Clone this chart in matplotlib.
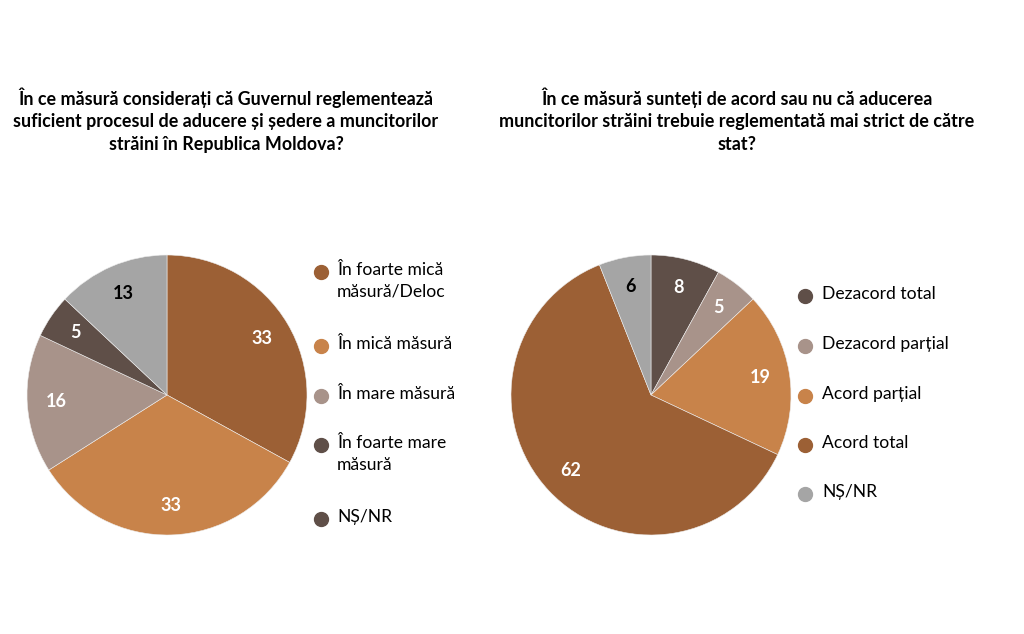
import matplotlib
matplotlib.use("Agg")
import matplotlib.pyplot as plt
from matplotlib.lines import Line2D

plt.rcParams['font.family'] = ['Lato', 'DejaVu Sans']

# ---- data ----
left_title = "În ce măsură considerați că Guvernul reglementează\nsuficient procesul de aducere și ședere a muncitorilor\nstrăini în Republica Moldova?"
left_labels = ["În foarte mică\nmăsură/Deloc", "În mică măsură", "În mare măsură", "În foarte mare\nmăsură", "NȘ/NR"]
left_values = [33, 33, 16, 5, 13]
left_colors = ["#9C6035", "#C8834A", "#A8938A", "#5F4F48", "#A5A5A5"]
left_legend_colors = ["#9C6035", "#C8834A", "#A8938A", "#5F4F48", "#5F4F48"]
left_label_colors = ["white", "white", "white", "white", "black"]

right_title = "În ce măsură sunteți de acord sau nu că aducerea\nmuncitorilor străini trebuie reglementată mai strict de către\nstat?"
right_labels = ["Dezacord total", "Dezacord parțial", "Acord parțial", "Acord total", "NȘ/NR"]
right_values = [8, 5, 19, 62, 6]
right_colors = ["#5F4F48", "#A8938A", "#C8834A", "#9C6035", "#A5A5A5"]
right_label_colors = ["white", "white", "white", "white", "black"]

W, H = 1024, 634
fig = plt.figure(figsize=(W / 100, H / 100), dpi=100)
fig.patch.set_facecolor("white")


def draw_pie(cx, cy, r, values, colors, label_colors):
    ax = fig.add_axes([(cx - r) / W, 1 - (cy + r) / H, 2 * r / W, 2 * r / H])
    wedges, texts = ax.pie(values, colors=colors, startangle=90, counterclock=False,
                           labels=[str(v) for v in values], labeldistance=0.79,
                           wedgeprops=dict(linewidth=0.4, edgecolor="#EEEEEE"),
                           textprops=dict(fontsize=13, fontweight="bold"))
    for t, c in zip(texts, label_colors):
        t.set_color(c)
        t.set_ha("center")
        t.set_va("center")
    ax.set_xlim(-1.0, 1.0)
    ax.set_ylim(-1.0, 1.0)
    ax.set_aspect("equal")
    ax.axis("off")
    return ax


def draw_legend(mx, tx, ys, labels, colors):
    for y, lab, c in zip(ys, labels, colors):
        fig.add_artist(Line2D([mx / W], [1 - y / H], marker="o", markersize=10,
                              color=c, linestyle="none", transform=fig.transFigure))
        fig.text(tx / W, 1 - (y - 10) / H, lab, fontsize=12.6, va="top", ha="left",
                 linespacing=1.45, color="black")


fig.text(226 / W, 1 - 87 / H, left_title, ha="center", va="top", fontsize=12.9,
         fontweight="bold", linespacing=1.4)
fig.text(737 / W, 1 - 87 / H, right_title, ha="center", va="top", fontsize=13.0,
         fontweight="bold", linespacing=1.4)

draw_pie(167, 395, 140, left_values, left_colors, left_label_colors)
draw_pie(651, 395, 140, right_values, right_colors, right_label_colors)

draw_legend(321, 337, [272, 346, 396, 445, 519], left_labels, left_legend_colors)
draw_legend(805, 822, [296, 346, 396, 445, 494], right_labels, right_colors)

fig.savefig("out.png", dpi=100, facecolor="white")
